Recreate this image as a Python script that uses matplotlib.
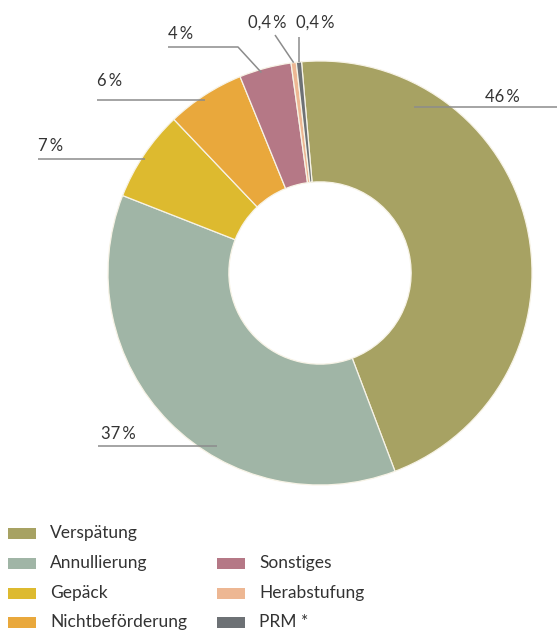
import numpy as np
import matplotlib.pyplot as plt
from matplotlib.patches import Rectangle

plt.rcParams['font.family'] = ['Lato', 'DejaVu Sans']

categories = ['Verspätung', 'Annullierung', 'Gepäck', 'Nichtbeförderung',
              'Sonstiges', 'Herabstufung', 'PRM *']
shares = [46, 37, 7, 6, 4, 0.4, 0.4]
labels = ['46\u2009%', '37\u2009%', '7\u2009%', '6\u2009%', '4\u2009%',
          '0,4\u2009%', '0,4\u2009%']
colors = ['#A7A263', '#A0B5A6', '#DDBA2F', '#E9A83C', '#B57886', '#EDB793', '#6D7175']

W, H = 557, 630
TXT = '#333333'
LINE = '#8c8c8c'

fig = plt.figure(figsize=(W / 100, H / 100), dpi=100)
ax = fig.add_axes([0, 0, 1, 1])


def Y(py):
    # image rows count downward
    return H - py


cx, cy, R = 320, Y(273), 212
wedges, _ = ax.pie(shares, colors=colors, startangle=95, counterclock=False,
                   center=(cx, cy), radius=R, frame=True,
                   wedgeprops=dict(width=R * 0.57, edgecolor='#f7f3e6', linewidth=0.9))
ax.set_xlim(0, W)
ax.set_ylim(0, H)
ax.set_aspect('equal')
ax.axis('off')


def anchor(i, frac, rf):
    w = wedges[i]
    # clockwise wedges: theta2 is the start
    a = np.radians(w.theta2 - frac * (w.theta2 - w.theta1))
    return cx + rf * R * np.cos(a), cy + rf * R * np.sin(a)


# label layout: wedge fraction, radius fraction, leader path after anchor, text pos, ha
layout = [
    (0.21, 0.90, [(557, None)], (485, 97), 'left'),
    (0.39, 0.95, [(98, None)], (101, 434), 'left'),
    (0.47, 0.985, [(38, None)], (38, 146), 'left'),
    (0.46, 0.98, [(97, None)], (97, 81), 'left'),
    (0.41, 0.985, [(238, 47), (168, 47)], (168, 34), 'left'),
    (0.5, 1.0, [(275, 35)], (286, 23), 'right'),
    (0.5, 1.0, [(None, 37)], (296, 23), 'left'),
]

for i, (frac, rf, path, (tx, ty), ha) in enumerate(layout):
    x0, y0 = anchor(i, frac, rf)
    xs, ys = [x0], [y0]
    for px, py in path:
        xs.append(xs[-1] if px is None else px)
        ys.append(ys[-1] if py is None else Y(py))
    ax.plot(xs, ys, color=LINE, lw=1.1, solid_capstyle='butt', zorder=3)
    ax.text(tx, Y(ty), labels[i], ha=ha, va='center', fontsize=12, color=TXT)

# legend in two columns
rows = [533, 563, 593, 622]
slots = [(0, 0), (0, 1), (0, 2), (0, 3), (1, 1), (1, 2), (1, 3)]
col_x = [8, 217]
for (c, r), name, col in zip(slots, categories, colors):
    ax.add_patch(Rectangle((col_x[c], Y(rows[r]) - 5.5), 28, 11, color=col, lw=0))
    ax.text(col_x[c] + 42, Y(rows[r]), name, ha='left', va='center',
            fontsize=12.5, color=TXT)

fig.savefig('out.png', dpi=100, facecolor='white')
